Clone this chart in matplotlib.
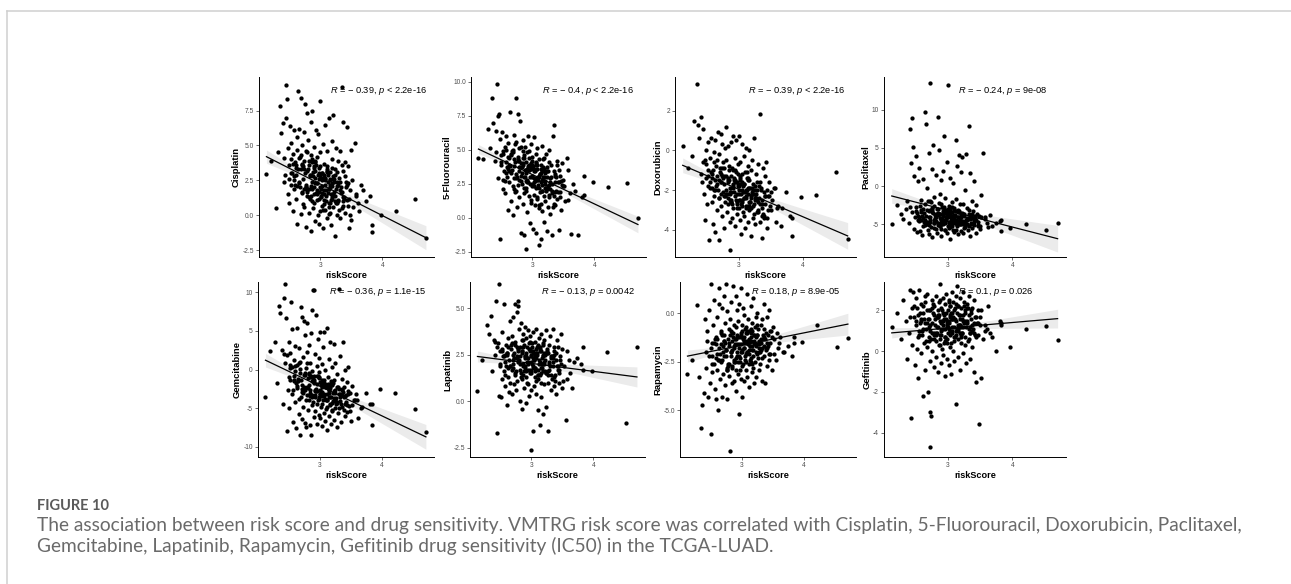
import numpy as np
import matplotlib
matplotlib.use("Agg")
from matplotlib import pyplot as plt
from matplotlib import transforms
from matplotlib.lines import Line2D

# ======= Data =====================================================

risk_score = [
    2.13, 2.21, 2.28, 2.31, 2.35, 2.37, 2.39, 2.41, 2.43, 2.44,
    2.45, 2.46, 2.47, 2.48, 2.49, 2.50, 2.51, 2.52, 2.53, 2.54,
    2.55, 2.56, 2.57, 2.58, 2.59, 2.60, 2.61, 2.62, 2.63, 2.64,
    2.64, 2.65, 2.66, 2.67, 2.68, 2.69, 2.70, 2.70, 2.71, 2.72,
    2.73, 2.73, 2.74, 2.75, 2.76, 2.76, 2.77, 2.78, 2.79, 2.79,
    2.80, 2.81, 2.81, 2.82, 2.83, 2.84, 2.84, 2.85, 2.86, 2.86,
    2.87, 2.88, 2.88, 2.89, 2.90, 2.90, 2.91, 2.92, 2.92, 2.93,
    2.94, 2.94, 2.95, 2.96, 2.96, 2.97, 2.98, 2.98, 2.99, 3.00,
    3.00, 3.01, 3.02, 3.02, 3.03, 3.04, 3.04, 3.05, 3.06, 3.06,
    3.07, 3.08, 3.08, 3.09, 3.10, 3.10, 3.11, 3.12, 3.12, 3.13,
    3.14, 3.14, 3.15, 3.16, 3.16, 3.17, 3.18, 3.18, 3.19, 3.20,
    3.20, 3.21, 3.22, 3.23, 3.23, 3.24, 3.25, 3.26, 3.27, 3.28,
    3.29, 3.30, 3.31, 3.32, 3.33, 3.34, 3.35, 3.36, 3.37, 3.38,
    3.39, 3.40, 3.41, 3.42, 3.43, 3.44, 3.46, 3.48, 3.50, 3.52,
    3.55, 3.58, 3.62, 3.66, 3.74, 3.80, 3.83, 3.97, 4.21, 4.52,
    4.70, 2.50, 2.53, 2.57, 2.61, 2.66, 2.69, 2.72, 2.75, 2.78,
    2.80, 2.83, 2.85, 2.87, 2.89, 2.91, 2.93, 2.95, 2.97, 2.99,
    3.01, 3.03, 3.05, 3.07, 3.09, 3.11, 3.13, 3.15, 3.17, 3.19,
    3.21, 3.24, 3.27, 3.30, 3.33, 3.36, 3.40, 3.45, 3.49, 3.57,
    2.42, 2.55, 2.62, 2.68, 2.74, 2.79, 2.84, 2.89, 2.94, 2.98,
    3.02, 3.06, 3.10, 3.14, 3.18, 3.22, 3.26, 3.31, 3.38, 3.47,
    2.58, 2.71, 2.82, 2.92, 3.04, 3.15, 3.25, 3.35, 3.44, 3.83,
    2.60, 2.63, 2.67, 2.70, 2.73, 2.77, 2.81, 2.85, 2.88, 2.91,
    2.93, 2.96, 2.99, 3.01, 3.03, 3.05, 3.08, 3.11, 3.13, 3.16,
    3.19, 3.22, 3.25, 3.28, 3.32, 3.36, 3.41, 3.46, 3.51, 3.60,
    2.65, 2.72, 2.78, 2.83, 2.87, 2.90, 2.95, 2.97, 3.00, 3.03,
    3.06, 3.09, 3.12, 3.15, 3.18, 3.21, 3.24, 3.29, 3.34, 3.42,
    2.52, 2.59, 2.76, 2.86, 2.99, 3.07, 3.17, 3.27, 3.37, 3.68,
]

cisplatin = [
    2.95, 3.9, 0.5, 4.5, 7.8, 5.9, 6.6, 4.1, 2.9, 7.0,
    9.3, 8.3, 4.8, 1.5, 3.6, 0.9, 6.4, 2.2, 5.2, 3.0,
    0.3, 4.4, 2.5, 6.1, 3.8, 1.2, 2.9, 5.6, -0.6, 3.3,
    8.9, 6.2, 4.1, 2.0, 8.4, 0.1, 3.6, 5.0, 1.7, 2.6,
    6.0, 0.6, 3.9, 8.0, 2.2, 4.6, -0.8, 1.4, 7.3, 3.2,
    5.4, 1.9, 0.2, 3.6, 2.8, 6.7, -1.1, 4.3, 1.0, 2.4,
    7.5, 3.1, 0.5, 2.0, 4.9, 1.5, 2.7, -0.4, 3.8, 6.1,
    1.1, 4.2, 2.3, 0.0, 5.8, 3.4, 1.7, -0.6, 2.9, 4.5,
    8.2, 1.3, 3.0, 0.7, 2.1, 5.1, -0.9, 3.7, 1.8, 2.6,
    0.4, 6.5, 2.2, 1.0, 3.5, 4.6, -0.2, 1.6, 2.9, 0.9,
    7.0, 1.9, 3.1, 0.2, 2.5, -0.7, 4.0, 1.2, 5.3, 2.8,
    7.2, 0.6, 2.4, 3.3, -1.5, 1.4, 4.8, 0.0, 2.1, 3.9,
    1.0, 2.7, -0.2, 4.6, 1.6, 0.5, 9.2, 3.2, 6.7, 1.2,
    3.8, 0.2, 2.4, 6.3, 1.1, 3.5, -0.9, 1.8, 4.7, 0.6,
    5.2, 1.4, 0.3, 2.2, 1.0, 1.4, -1.2, 0.0, 0.3, 1.15,
    -1.6, 2.6, 4.0, 1.9, 3.4, 2.3, 4.3, 0.8, 3.0, 1.8,
    3.3, 1.2, 2.9, 4.0, 0.9, 2.3, 3.6, 1.5, 2.6, 0.3,
    1.9, 3.0, 0.8, 2.5, 1.4, 3.2, 0.1, 2.0, 1.1, 3.4,
    2.6, 1.0, 3.1, 0.4, 2.0, 1.3, 2.8, 0.7, -0.3, 1.5,
    2.4, 3.7, 4.7, 3.3, 1.9, 4.5, 2.1, 3.5, 1.8, 3.0,
    2.7, 1.5, 3.3, 0.6, 2.3, 1.7, 0.9, 2.4, 1.3, 0.0,
    2.8, 3.7, 1.3, 3.9, 0.4, 2.6, 1.9, 3.6, 2.3, -0.7,
    3.6, 2.1, 4.2, 1.6, 3.3, 2.0, 3.9, 1.4, 2.8, 3.2,
    1.6, 2.9, 3.5, 1.4, 2.5, 1.1, 2.7, 3.1, 1.9, 2.2,
    1.3, 2.6, 0.9, 2.2, 1.8, 0.7, 2.0, 1.2, 2.5, 0.9,
    2.4, 3.5, 1.7, 2.9, 1.9, 3.4, 2.3, 1.2, 2.7, 1.6,
    2.9, 1.8, 2.4, 0.9, 2.1, 1.5, 2.9, 1.1, 1.7, 2.2,
    3.0, 2.2, 2.0, 3.8, 2.0, 2.6, 1.5, 2.4, 1.0, 1.8,
]

fluorouracil = [
    4.4, 4.3, 6.5, 5.1, 8.8, 7.0, 4.2, 4.8, 9.8, 2.9,
    7.5, 7.6, -1.6, 5.8, 3.9, 4.6, 6.3, 2.1, 4.9, 3.4,
    5.2, 1.8, 4.1, 6.0, 3.0, 5.5, 0.6, 4.4, 2.6, 3.8,
    7.8, 4.7, 1.2, 3.5, 5.0, 0.2, 6.1, 2.9, 4.3, 1.9,
    5.6, 8.8, 3.2, 0.8, 4.5, 2.4, 7.6, 3.7, 1.5, 5.1,
    7.1, 2.7, 4.0, -1.1, 3.3, 5.7, 1.0, 3.9, 2.2, 4.6,
    -1.3, 3.0, 5.2, 2.0, 4.1, -2.3, 3.6, 0.4, 2.8, 6.0,
    3.5, 1.6, 4.9, 2.5, -0.4, 3.8, 5.4, 1.1, 3.1, 2.3,
    4.5, -0.8, 2.9, 5.9, 1.7, 3.4, 0.9, 4.0, 2.2, -1.1,
    3.6, 5.1, 1.4, 2.8, -2.0, 4.3, 0.7, 3.2, 1.9, 2.6,
    -1.6, 3.9, 2.4, 5.3, 0.5, 3.0, 1.6, 4.4, -0.3, 2.7,
    3.3, 1.2, 4.7, -1.0, 2.1, 3.7, 0.8, 5.0, 1.5, 2.9,
    0.3, 3.9, -1.3, 2.5, 6.0, 1.0, 6.8, 3.2, 0.9, 2.0,
    4.2, 1.4, 2.6, -0.9, 3.5, 1.9, 0.6, 4.0, 2.8, 1.2,
    4.4, 1.3, -1.2, 2.5, -1.3, 1.5, 3.1, 2.65, 2.25, 2.55,
    0.0, 4.1, 2.8, 5.0, 3.6, 4.6, 2.3, 5.4, 3.0, 4.2,
    3.7, 2.5, 4.4, 1.8, 3.3, 4.8, 2.6, 3.9, 1.3, 3.0,
    3.8, 2.3, 4.1, 1.5, 3.0, 0.9, 3.6, 2.0, 4.3, 2.7,
    2.2, 3.4, 1.7, 3.0, 0.8, 2.6, 3.9, 1.5, 2.3, 3.5,
    6.4, 2.7, 3.9, 4.8, 2.0, 3.4, 4.9, 2.2, 4.4, 3.6,
    2.6, 4.7, 3.1, 1.0, 3.5, 2.0, 4.1, 1.8, 3.0, 2.4,
    3.3, 2.1, 5.2, 3.6, 2.7, 3.4, 2.3, 1.6, 3.1, 1.7,
    4.5, 3.4, 4.9, 3.8, 2.9, 4.3, 3.1, 4.0, 3.5, 2.6,
    3.8, 3.0, 4.2, 2.4, 3.6, 2.9, 3.9, 2.2, 3.3, 2.8,
    3.0, 2.2, 3.4, 2.6, 2.0, 3.1, 1.9, 2.7, 2.3, 1.8,
    3.3, 4.1, 2.8, 3.7, 4.4, 2.7, 3.5, 4.0, 2.5, 3.4,
    3.9, 2.4, 3.2, 2.0, 3.6, 2.5, 3.0, 2.1, 3.4, 2.6,
    4.7, 3.7, 4.2, 3.0, 3.9, 2.8, 3.7, 2.4, 1.9, 2.0,
]

doxorubicin = [
    0.2, -0.9, -0.3, 1.5, 3.35, 1.3, 0.6, 1.7, -1.6, -0.6,
    1.1, -2.2, -0.5, -3.5, 0.0, -1.4, -2.7, 0.4, -1.0, -4.5,
    -0.4, -1.9, 0.6, -2.6, -1.2, -3.7, -0.1, -2.3, -4.1, -1.5,
    0.5, -0.8, -3.0, -1.7, 0.9, -2.4, -0.2, -4.5, -1.1, -2.8,
    0.8, -1.6, -3.3, 0.3, -2.1, -0.6, -3.9, -1.3, 0.1, -2.6,
    1.2, -2.0, -0.5, -3.1, -1.4, 0.2, -2.7, -1.0, -3.6, -2.2,
    -5.0, -1.3, 0.4, -2.5, -0.9, -3.4, -1.8, 0.7, -2.9, -1.5,
    -0.4, -2.3, -3.8, -1.1, 0.5, -2.7, -1.6, -3.2, -0.7, -2.0,
    0.7, -2.9, -1.5, -3.5, -0.6, -2.2, -4.2, -1.2, 0.3, -2.6,
    -1.8, -3.3, -0.3, -2.4, -1.1, -3.9, -2.0, 0.1, -2.8, -1.4,
    -3.6, -0.8, -2.2, -1.5, -3.0, 0.0, -2.6, -1.9, -4.3, -1.0,
    -2.3, -0.5, -3.4, -1.7, -2.8, 0.6, -2.0, -3.7, -1.2, -2.5,
    -1.6, -3.1, -0.7, -2.4, -3.6, 1.85, -1.9, -4.4, -2.9, -0.9,
    -2.1, -3.4, -1.3, -2.7, -0.6, -3.9, -2.3, -1.6, -3.0, -2.5,
    -1.9, -3.6, -2.8, -3.8, -2.1, -3.3, -4.3, -2.35, -2.25, -1.1,
    -4.45, -0.7, -1.8, -1.1, -2.0, -0.5, -1.5, -2.2, -0.9, -1.7,
    -1.3, -2.4, -0.8, -1.9, -2.6, -1.0, -2.1, -1.6, -2.9, -1.2,
    -2.5, -1.4, -2.0, -3.1, -1.7, -2.3, -1.1, -2.8, -1.9, -2.4,
    -1.9, -2.7, -2.2, -3.0, -1.6, -2.5, -3.3, -2.0, -2.8, -1.9,
    -1.2, -1.6, -0.6, -2.0, -1.3, -2.3, -1.5, -2.1, -1.0, -2.6,
    -1.7, -2.5, -2.1, -1.4, -2.9, -2.2, -1.8, -2.6, -3.2, -2.3,
    -1.4, -0.9, -2.2, -1.7, -2.7, -1.5, -2.4, -2.0, -3.4, -3.4,
    -1.0, -2.0, -1.3, -2.4, -1.6, -0.9, -2.2, -1.5, -2.6, -1.9,
    -1.4, -2.5, -1.8, -2.2, -1.3, -2.8, -1.7, -2.4, -2.0, -2.6,
    -2.9, -2.0, -2.5, -3.1, -1.8, -2.7, -2.3, -3.0, -2.1, -2.9,
    -1.8, -1.2, -2.3, -1.6, -2.1, -2.7, -1.5, -2.2, -1.8, -2.5,
    -1.6, -2.4, -2.9, -1.9, -2.6, -2.1, -3.2, -2.0, -2.7, -2.3,
    -1.3, -1.9, -1.4, -2.5, -1.7, -2.1, -2.8, -2.4, -3.3, -2.9,
]

paclitaxel = [
    -5.0, -2.5, -3.6, -4.3, -3.0, -2.0, -4.8, 7.5, 3.0, -3.4,
    8.9, 5.1, -5.6, 1.3, -4.0, -2.7, 3.9, -6.0, 0.6, -3.9,
    -4.6, 2.4, -5.9, -3.1, -1.8, -6.4, -4.2, 0.9, -3.5, -5.1,
    9.7, -2.4, 8.2, -4.7, -0.3, -5.7, -3.3, 4.3, -6.3, -2.0,
    13.5, -4.4, -5.4, 2.2, -3.1, -6.7, 5.4, -1.4, -4.9, -2.6,
    -3.8, -5.6, 1.5, -4.1, -6.2, 9.0, -3.0, -4.9, -2.2, 4.7,
    -5.3, -3.6, -1.0, -6.6, -4.4, 0.8, -2.8, -5.0, -3.9, 2.0,
    6.5, -4.6, -3.2, -5.8, -1.6, -4.0, -6.1, 3.2, -3.5, -5.2,
    13.3, -4.7, -2.6, -5.5, 1.1, -3.7, -6.9, -4.1, -2.1, -5.0,
    -3.4, -5.7, 0.4, -4.3, -2.9, -6.0, -3.8, 6.0, -4.8, -1.7,
    -5.3, 2.6, -4.0, -6.3, -3.1, 4.1, -5.0, -2.4, -4.5, 1.8,
    -3.7, -5.9, 3.8, -4.6, -2.3, -6.1, -3.9, -0.5, -5.2, 4.2,
    -4.4, -2.9, -5.7, 7.9, -3.6, -6.5, 1.7, -4.9, -2.0, -5.5,
    -3.3, 0.6, -5.1, -4.0, -6.2, -2.5, -4.7, -3.9, -5.6, -1.2,
    4.4, -4.3, -5.4, -3.8, -4.9, -4.6, -5.9, -5.5, -5.0, -5.8,
    -4.9, -3.3, -4.5, -2.6, -5.3, -3.9, -1.9, -4.7, -3.4, -5.5,
    -4.2, -3.0, -5.1, -3.7, -2.4, -4.8, -3.3, -5.7, -4.3, -3.1,
    -4.9, -3.6, -5.3, -2.8, -4.4, -3.9, -5.8, -4.1, -3.4, -5.0,
    -4.6, -3.8, -5.4, -4.2, -3.1, -5.0, -4.4, -3.6, -5.2, -4.0,
    -2.8, -4.0, -3.0, -5.0, -2.1, -4.4, -3.5, -4.9, -2.7, -4.1,
    -3.9, -4.6, -3.2, -5.1, -4.0, -3.5, -4.8, -4.3, -3.7, -5.3,
    -3.4, -4.1, -3.6, -4.5, -3.0, -4.7, -5.5, -3.9, -4.4, -4.5,
    -3.9, -4.7, -3.2, -5.1, -4.0, -3.5, -4.6, -3.8, -5.2, -4.3,
    -3.6, -4.9, -4.1, -3.4, -5.4, -4.5, -3.9, -4.8, -3.3, -4.6,
    -4.2, -5.0, -3.7, -4.4, -5.3, -3.9, -4.7, -5.1, -4.0, -4.8,
    -4.4, -3.1, -4.9, -3.7, -4.2, -5.6, -3.5, -4.5, -3.0, -4.1,
    -5.2, -3.8, -4.4, -3.4, -4.9, -4.1, -3.6, -5.0, -4.3, -3.9,
    -3.5, -4.4, -2.9, -5.0, -3.8, -4.6, -3.3, -4.9, -4.2, -5.2,
]

gemcitabine = [
    -3.5, 2.4, 3.6, -1.8, 8.2, 7.3, 2.5, -4.4, 9.2, 0.8,
    11.0, 6.6, -8.0, 1.9, -2.6, 3.5, -5.0, 0.2, -1.3, 8.7,
    -3.1, 5.2, -6.8, 1.2, -0.9, 3.0, -4.2, -7.6, 0.6, -2.4,
    5.3, -1.5, -5.8, 2.8, -8.5, 0.1, 8.1, -3.6, 6.8, -6.4,
    -4.8, 1.6, 6.3, -2.2, -6.9, 4.5, -0.4, -7.4, 2.3, -3.3,
    6.0, -1.1, -5.2, 3.2, -3.9, -7.2, 0.9, -2.7, -8.5, 4.7,
    -0.2, 7.7, -4.6, 10.3, -6.1, -1.6, 10.3, -3.5, 2.0, -5.4,
    7.0, -2.8, -7.0, 0.4, -4.4, 3.9, -1.0, -5.9, 1.5, -3.2,
    -6.3, 4.8, -2.0, -4.9, 0.7, -7.3, -3.4, 2.9, -5.6, -1.3,
    4.9, -3.8, -6.7, 0.0, -2.3, -5.1, 5.3, -4.0, -7.8, -1.0,
    -3.0, 1.4, -6.0, -2.1, -4.6, 3.6, -7.0, -1.5, -5.4, 0.3,
    -4.3, -1.7, 3.3, -6.5, -2.8, -5.0, 0.9, -3.7, -7.4, -0.6,
    -5.6, -2.5, 10.4, 1.8, -4.1, -6.8, -1.2, -3.3, 3.5, -5.2,
    -3.5, 0.0, -6.0, -4.2, -1.6, -5.5, 0.3, -3.0, -6.6, -2.1,
    -4.0, -3.2, -6.2, -5.0, -3.0, -4.5, -7.2, -2.5, -3.0, -5.1,
    -8.1, -1.0, 2.1, -2.6, 0.4, -3.8, 1.0, -2.0, -0.7, -4.0,
    -2.3, -0.4, -3.4, -1.5, -4.2, -0.9, -2.8, -1.9, -3.9, -1.1,
    -2.6, -4.4, -1.6, -3.2, -2.2, -4.8, -1.9, -3.6, -2.4, -5.2,
    -3.0, -4.1, -2.3, -5.0, -3.6, -2.7, -4.5, -3.2, -5.4, -3.9,
    2.0, 0.3, -1.8, -0.5, -2.7, 0.9, -3.0, -1.2, -2.5, -0.3,
    -2.9, -1.8, -4.0, -2.4, -3.5, -1.4, -4.4, -3.1, -2.2, -4.7,
    -1.3, -2.9, -0.6, -3.3, -1.4, -2.7, -4.0, -2.5, -4.6, -4.4,
    -0.2, -2.1, 0.8, -1.4, -3.0, -0.7, -2.4, -1.0, -3.3, -1.8,
    -2.6, -0.9, -3.5, -1.6, -2.9, -4.0, -1.9, -3.2, -2.3, -4.4,
    -2.0, -3.7, -2.6, -4.3, -3.1, -4.8, -3.4, -2.8, -4.6, -3.9,
    -1.2, -2.5, 0.2, -2.0, -3.6, -1.4, -2.8, -0.8, -3.1, -2.2,
    -3.4, -2.0, -3.9, -2.6, -1.7, -4.1, -3.0, -2.3, -4.5, -3.3,
    0.6, -1.5, -2.6, -0.9, -3.8, -2.1, -3.5, -4.2, -2.9, -4.9,
]

lapatinib = [
    0.55, 2.2, 4.1, 3.6, 4.6, 1.6, 3.3, 2.5, 5.4, -1.7,
    2.9, 3.1, 0.3, 6.3, 1.9, 2.7, 0.2, 3.7, 1.2, 2.4,
    1.6, 5.2, 2.1, 0.8, 3.0, -0.2, 2.6, 1.3, 3.4, 0.5,
    2.2, 4.3, 1.0, 2.8, 0.4, 3.5, 1.8, 4.5, 2.5, 0.9,
    5.2, 1.5, 3.2, 0.6, 2.3, 4.8, 1.1, 5.4, 2.7, 5.1,
    3.9, 1.7, 0.0, 2.9, 4.2, 1.2, 3.3, -0.4, 2.0, 3.6,
    1.4, 3.0, 0.7, 2.3, 4.0, 1.9, -0.1, 3.4, 2.6, 1.0,
    3.8, 0.9, 2.1, 3.1, 0.3, 2.7, 1.5, 3.5, 0.6, 2.4,
    -2.6, 2.9, -1.6, 1.8, 3.7, 0.8, 2.2, 3.2, 1.3, 2.5,
    1.1, 3.9, 0.4, 2.6, 1.7, 3.0, -0.5, 2.0, 3.4, 1.4,
    -1.3, 2.8, 1.0, 3.6, 0.2, 2.3, -0.7, 3.1, 1.6, 2.6,
    3.3, 0.9, 2.2, -0.3, 3.8, 1.5, 2.7, -1.6, 1.0, 3.0,
    2.0, 3.5, 0.6, 2.4, 1.2, 3.9, 1.9, 0.8, 2.9, 1.4,
    2.6, 0.4, 3.3, 1.7, 2.9, 1.0, 2.2, 3.6, 0.7, 1.9,
    -1.0, 2.7, 1.5, 0.7, 2.3, 2.0, 2.9, 1.6, 2.65, -1.2,
    2.9, 2.0, 2.8, 1.4, 2.5, 1.9, 3.1, 2.3, 1.6, 2.8,
    2.2, 1.5, 2.7, 1.9, 2.4, 1.3, 2.9, 2.0, 1.7, 2.5,
    2.0, 2.6, 1.6, 2.3, 2.9, 1.4, 2.1, 2.7, 1.8, 2.4,
    2.1, 1.5, 2.6, 1.9, 2.4, 1.3, 2.2, 1.7, 2.8, 1.2,
    3.2, 2.4, 2.9, 1.7, 3.0, 2.1, 2.6, 1.8, 2.3, 2.8,
    1.9, 2.4, 1.4, 2.7, 2.0, 2.5, 1.6, 2.3, 1.1, 2.0,
    2.5, 2.0, 2.4, 1.6, 2.2, 1.8, 2.6, 2.1, 1.5, 1.7,
    2.6, 1.8, 3.0, 2.2, 1.4, 2.9, 2.0, 2.7, 1.6, 2.4,
    2.1, 2.8, 1.5, 3.1, 2.3, 1.8, 2.6, 1.2, 2.9, 2.0,
    2.5, 1.6, 2.8, 2.1, 1.4, 2.7, 1.9, 2.4, 1.1, 2.2,
    1.9, 2.6, 2.2, 1.3, 2.9, 2.4, 1.7, 3.2, 2.1, 2.7,
    1.8, 2.5, 2.2, 1.5, 3.0, 2.0, 2.6, 1.7, 2.3, 1.9,
    2.7, 1.9, 2.4, 3.3, 1.6, 2.8, 2.0, 1.4, 2.5, 2.1,
]

rapamycin = [
    -3.1, -2.4, 0.45, -3.3, -5.9, -4.7, -4.1, -0.3, -2.8, -1.4,
    -0.9, -4.3, -2.2, 0.2, -3.6, 1.5, -6.2, -1.5, -3.0, -0.6,
    -2.6, 0.7, -3.9, -1.2, -4.4, -0.2, -2.9, -5.0, -1.8, 0.5,
    1.3, -3.4, -1.0, -2.5, 0.3, -4.3, -1.7, -3.1, 0.9, -2.2,
    -0.5, -3.7, 1.5, -1.9, -2.9, 0.1, -4.4, -1.3, -2.6, -0.8,
    -3.2, -0.3, -7.1, -2.0, 0.6, -3.6, -1.4, -2.7, 1.4, -1.0,
    -2.4, -0.6, -3.5, -1.6, 0.9, -2.9, -4.0, -1.1, 0.2, -2.2,
    -0.4, -3.1, -1.8, -5.2, 0.5, -2.5, -1.2, -3.4, 1.3, -2.0,
    -4.3, -0.9, -2.6, 0.3, -1.5, -3.5, -0.1, -2.2, -1.0, -2.9,
    -0.7, -2.0, 1.0, -3.3, -1.4, -0.3, -2.6, -3.8, -0.9, -1.7,
    0.4, -2.3, -1.2, -3.0, -0.5, -1.9, 0.8, -2.8, -1.5, -3.6,
    -1.1, -2.5, -0.2, -1.7, -3.3, 0.0, -2.1, -0.8, -2.9, -1.4,
    -2.6, -0.6, -1.9, -3.5, -0.3, -1.3, -2.2, 0.5, -3.6, -1.0,
    -1.8, -0.2, -2.7, -1.1, -2.4, 0.2, -1.5, -2.9, -0.7, -1.3,
    -2.4, -1.8, -1.2, -2.0, -1.7, -2.2, -1.2, -1.45, -0.6, -1.75,
    -1.25, -1.8, -2.6, -1.3, -2.1, -1.6, -2.4, -1.1, -1.9, -2.7,
    -1.5, -2.2, -1.0, -1.8, -2.5, -1.3, -2.0, -1.6, -2.3, -1.1,
    -1.9, -1.2, -2.4, -1.5, -0.9, -2.1, -1.7, -1.0, -2.6, -1.4,
    -1.6, -1.1, -2.0, -1.3, -1.8, -0.8, -1.5, -2.1, -1.2, -1.0,
    -2.0, -1.5, -2.4, -1.1, -2.2, -1.7, -2.8, -1.3, -2.5, -1.6,
    -1.3, -2.1, -1.6, -0.8, -1.9, -1.2, -2.3, -1.5, -1.9, -0.9,
    -2.3, -1.4, -2.0, -1.2, -1.8, -2.5, -1.1, -1.7, -2.1, -1.5,
    -1.3, -2.4, -0.9, -2.0, -1.5, -2.8, -1.1, -1.9, -2.5, -0.7,
    -1.6, -2.2, -1.0, -2.7, -1.4, -0.8, -2.0, -1.3, -2.4, -1.7,
    -1.1, -2.0, -0.6, -1.6, -2.3, -1.2, -1.8, -0.9, -2.1, -1.5,
    -2.1, -1.4, -2.6, -0.9, -1.7, -2.3, -1.2, -2.9, -0.6, -1.8,
    -2.5, -1.0, -1.9, -1.4, -2.2, -0.7, -1.6, -2.0, -1.1, -1.7,
    -2.2, -1.6, -2.9, -1.2, -2.0, -1.4, -0.9, -1.8, -1.3, -2.0,
]

gefitinib = [
    1.2, 1.9, 0.6, 2.5, 1.5, -0.4, 0.9, 3.0, -3.3, 2.1,
    0.3, 2.9, 1.7, 2.2, -0.7, 1.3, 2.6, 0.1, 1.8, -1.3,
    3.0, 0.8, 1.4, -0.1, 2.3, 1.0, -2.2, 1.9, 0.4, 2.7,
    -0.9, 2.4, 1.1, 0.2, 2.8, -2.0, 1.6, 0.7, 2.0, -0.5,
    -4.7, -3.0, -3.2, 1.4, 2.5, 0.0, 1.9, -0.8, 2.2, 0.9,
    1.6, -0.3, 2.7, 0.5, 1.2, 2.0, -1.0, 1.7, 0.3, 2.4,
    3.3, 0.8, 1.5, -0.6, 2.1, 1.0, 0.1, 2.6, 1.3, -0.2,
    1.8, 0.4, 2.3, -1.2, 1.1, 2.8, 0.6, 1.5, -0.4, 2.0,
    0.9, 2.5, -0.7, 1.4, 2.2, 0.2, 1.7, -1.1, 2.9, 1.0,
    1.9, 0.0, 2.4, 1.2, -0.5, 2.0, 0.7, -2.6, 1.5, 2.7,
    3.2, 1.1, -0.3, 2.2, 0.6, 1.8, 2.6, -0.9, 1.3, 0.4,
    2.1, 0.8, 1.6, 2.9, -0.1, 1.2, 2.4, 0.3, 1.9, -0.6,
    1.4, 2.3, 0.5, 1.8, 2.7, 0.9, -0.4, 1.6, 2.1, 0.2,
    1.1, 2.5, -1.0, 1.7, -1.5, 0.7, 2.0, -3.6, 1.3, -1.3,
    0.6, 1.3, 2.2, 0.9, 0.0, 1.5, 1.3, 0.2, 1.1, 1.25,
    0.55, 1.5, 0.7, 1.9, 1.1, 0.5, 1.6, 1.0, 2.1, 0.8,
    1.3, 0.9, 1.7, 0.6, 1.4, 2.0, 1.1, 0.7, 1.6, 1.2,
    1.5, 0.8, 1.9, 1.2, 0.5, 1.6, 1.0, 2.2, 1.3, 0.9,
    1.2, 1.8, 0.7, 1.5, 1.1, 2.0, 0.9, 1.4, 1.7, 1.0,
    1.7, 1.0, 2.2, 1.4, 0.6, 1.8, 1.2, 0.8, 1.6, 1.3,
    1.1, 1.6, 0.7, 1.9, 1.3, 0.9, 1.5, 2.1, 1.0, 1.4,
    1.6, 1.2, 0.8, 1.5, 1.8, 1.1, 1.4, 0.9, 1.7, 1.4,
    0.8, 1.6, 2.0, 0.5, 1.3, 2.3, 0.9, 1.8, 0.3, 1.5,
    1.9, 0.7, 1.4, 2.4, 1.0, 0.4, 1.7, 2.1, 0.8, 1.3,
    1.6, 0.9, 2.2, 1.2, 0.6, 1.9, 1.4, 0.8, 2.0, 1.1,
    1.4, 2.0, 0.6, 1.7, 2.5, 1.1, 0.5, 1.9, 1.2, 2.2,
    0.9, 1.6, 2.3, 1.0, 1.8, 0.7, 1.5, 2.1, 1.2, 0.8,
    2.1, 1.5, 0.9, 1.8, 0.4, 1.6, 1.2, 2.0, 1.3, 0.7,
]

drug_names = ["Cisplatin", "5-Fluorouracil", "Doxorubicin", "Paclitaxel",
              "Gemcitabine", "Lapatinib", "Rapamycin", "Gefitinib"]
drug_values = [cisplatin, fluorouracil, doxorubicin, paclitaxel,
               gemcitabine, lapatinib, rapamycin, gefitinib]

stat_labels = [
    r"$\mathit{R}$ = − 0.39, $\mathit{p}$ < 2.2e-16",
    r"$\mathit{R}$ = − 0.4, $\mathit{p}$ < 2.2e-16",
    r"$\mathit{R}$ = − 0.39, $\mathit{p}$ < 2.2e-16",
    r"$\mathit{R}$ = − 0.24, $\mathit{p}$ = 9e-08",
    r"$\mathit{R}$ = − 0.36, $\mathit{p}$ = 1.1e-15",
    r"$\mathit{R}$ = − 0.13, $\mathit{p}$ = 0.0042",
    r"$\mathit{R}$ = 0.18, $\mathit{p}$ = 8.9e-05",
    r"$\mathit{R}$ = 0.1, $\mathit{p}$ = 0.026",
]

# fitted line at min / max riskScore, and CI half-width at the right end
fit_left = [4.2, 5.05, -0.75, -1.3, 1.2, 2.4, -2.2, 0.9]
fit_right = [-1.6, -0.5, -4.3, -6.9, -8.7, 1.3, -0.55, 1.6]
band_right = [0.86, 0.61, 0.67, 1.75, 1.6, 0.54, 0.56, 0.46]

y_ticks = [
    [-2.5, 0.0, 2.5, 5.0, 7.5],
    [-2.5, 0.0, 2.5, 5.0, 7.5, 10.0],
    [-4, -2, 0, 2],
    [-5, 0, 5, 10],
    [-10, -5, 0, 5, 10],
    [-2.5, 0.0, 2.5, 5.0],
    [-5.0, -2.5, 0.0],
    [-4, -2, 0, 2],
]
y_tick_labels = [
    ["-2.5", "0.0", "2.5", "5.0", "7.5"],
    ["-2.5", "0.0", "2.5", "5.0", "7.5", "10.0"],
    ["-4", "-2", "0", "2"],
    ["-5", "0", "5", "10"],
    ["-10", "-5", "0", "5", "10"],
    ["-2.5", "0.0", "2.5", "5.0"],
    ["-5.0", "-2.5", "0.0"],
    ["-4", "-2", "0", "2"],
]
y_limits = [(-2.98, 9.9), (-2.89, 10.35), (-5.36, 3.69), (-9.3, 14.3),
            (-11.3, 11.3), (-3.0, 6.4), (-7.4, 1.62), (-5.2, 3.4)]

caption_head = "FIGURE 10"
caption_lines = [
    "The association between risk score and drug sensitivity. VMTRG risk score was correlated with "
    "Cisplatin, 5-Fluorouracil, Doxorubicin, Paclitaxel,",
    "Gemcitabine, Lapatinib, Rapamycin, Gefitinib drug sensitivity (IC50) in the TCGA-LUAD.",
]

# ======= Layout ====================================================

W, H = 1291, 584
# panel boxes in pixels: left, right, top, bottom
panel_px = [
    (259, 434, 77, 257), (471, 646, 77, 257), (675, 856, 77, 257), (884, 1066, 77, 257),
    (258, 434, 282, 457), (470, 645, 282, 457), (680, 856, 282, 457), (884, 1066, 282, 457),
]
X_LIM = (2.01, 4.83)

plt.rcParams["font.family"] = ["Liberation Sans", "DejaVu Sans"]
plt.rcParams["mathtext.fontset"] = "custom"
plt.rcParams["mathtext.it"] = "Liberation Sans:italic"
plt.rcParams["mathtext.rm"] = "Liberation Sans"


def main() -> None:
    fig = plt.figure(figsize=(W / 100, H / 100), dpi=100)
    fig.patch.set_facecolor("white")

    x = np.array(risk_score)
    x_min, x_max = x.min(), x.max()
    xm = x.mean()
    sx = x.std()

    for i, name in enumerate(drug_names):
        l, r, t, b = panel_px[i]
        ax = fig.add_axes([l / W, 1 - b / H, (r - l) / W, (b - t) / H])
        y = np.array(drug_values[i])

        # 回帰直線と信頼区間
        xs = np.linspace(x_min, x_max, 100)
        ys = fit_left[i] + (fit_right[i] - fit_left[i]) * (xs - x_min) / (x_max - x_min)
        shape = np.sqrt((1 + ((xs - xm) / sx) ** 2) / (1 + ((x_max - xm) / sx) ** 2))
        hw = band_right[i] * shape
        ax.fill_between(xs, ys - hw, ys + hw, color="#ebebeb", lw=0, zorder=1)

        ax.scatter(x, y, s=9.5, color="black", lw=0, zorder=2)
        ax.plot(xs, ys, color="black", lw=0.9, zorder=3)

        ax.text(3.15, 0.92 if i < 4 else 0.945, stat_labels[i], fontsize=6.7,
                ha="left", va="center", color="black", zorder=4,
                transform=transforms.blended_transform_factory(ax.transData, ax.transAxes))

        ax.set_xlim(*X_LIM)
        ax.set_ylim(*y_limits[i])
        ax.set_xticks([3, 4])
        ax.set_xticklabels(["3", "4"])
        ax.set_yticks(y_ticks[i])
        ax.set_yticklabels(y_tick_labels[i])
        ax.tick_params(length=2.2, width=0.5, color="#333333", labelsize=4.8,
                       labelcolor="#4d4d4d", pad=1.5)
        for side in ("top", "right"):
            ax.spines[side].set_visible(False)
        for side in ("left", "bottom"):
            ax.spines[side].set_linewidth(0.7)
            ax.spines[side].set_color("black")
        ax.set_xlabel("riskScore", fontsize=6.6, fontweight="bold", labelpad=1.5)
        ax.set_ylabel(name, fontsize=6.8, fontweight="bold", labelpad=1)
        ax.set_facecolor("white")

    # 枠線
    fig.add_artist(Line2D([7 / W, 1], [1 - 10.5 / H, 1 - 10.5 / H], color="#cfcfcf", lw=1.1))
    fig.add_artist(Line2D([7 / W, 7 / W], [1 - 10.5 / H, 0], color="#cfcfcf", lw=1.1))

    # キャプション
    fig.text(37 / W, 1 - 506 / H, caption_head, fontsize=10.5, fontweight="bold",
             color="#5a5a5a", family=["Lato", "DejaVu Sans"], va="center", ha="left")
    for k, line in enumerate(caption_lines):
        fig.text(37 / W, 1 - (526 + 20 * k) / H, line, fontsize=13.8,
                 color="#6a6a6a", family=["Lato", "DejaVu Sans"], va="center", ha="left")

    fig.savefig("out.png", dpi=100, facecolor="white")
    plt.close(fig)


if __name__ == "__main__":
    main()
